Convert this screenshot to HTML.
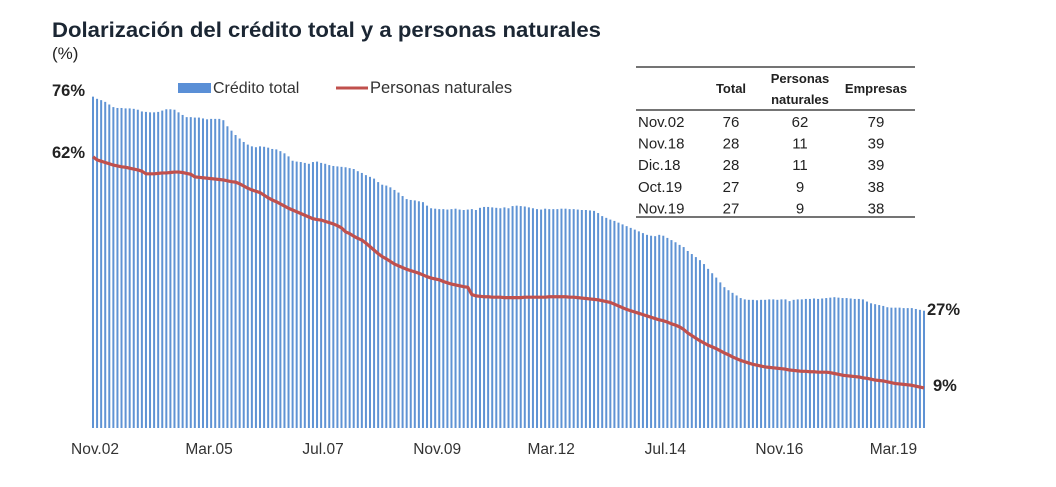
<!DOCTYPE html>
<html><head><meta charset="utf-8"><style>
body{margin:0;background:#fff;}
svg{display:block;font-family:"Liberation Sans",Arial,sans-serif;}
</style></head><body>
<svg id="chart" width="1056" height="487" viewBox="0 0 1056 487">
<text x="52" y="37" font-size="21.5" font-weight="bold" fill="#1b2633" textLength="549" lengthAdjust="spacingAndGlyphs">Dolarización del crédito total y a personas naturales</text>
<text x="52" y="59" font-size="17" fill="#222">(%)</text>
<g id="bars"></g>
<path id="line" fill="none" stroke="#c0504d" stroke-width="3.2" stroke-linejoin="round"></path>
<g id="xticks"></g>
<text x="52" y="96" font-size="16.5" font-weight="bold" fill="#222">76%</text>
<text x="52" y="158" font-size="16.5" font-weight="bold" fill="#222">62%</text>
<text x="927" y="315" font-size="16.5" font-weight="bold" fill="#222">27%</text>
<text x="933" y="391" font-size="16.5" font-weight="bold" fill="#222">9%</text>
<g>
<rect x="178" y="83" width="33" height="10" fill="#5a8fd6"/>
<text x="213" y="93" font-size="16" fill="#333">Crédito total</text>
<line x1="336" y1="88" x2="368" y2="88" stroke="#c0504d" stroke-width="3"/>
<text x="370" y="93" font-size="16.5" fill="#333">Personas naturales</text>
</g>
<g font-size="15" fill="#222">
<line x1="636" y1="67" x2="915" y2="67" stroke="#222" stroke-width="1.2"/>
<text x="731" y="93" font-size="13" font-weight="bold" text-anchor="middle">Total</text>
<text x="800" y="83" font-size="13" font-weight="bold" text-anchor="middle">Personas</text>
<text x="800" y="104" font-size="13" font-weight="bold" text-anchor="middle">naturales</text>
<text x="876" y="93" font-size="13" font-weight="bold" text-anchor="middle">Empresas</text>
<line x1="636" y1="110" x2="915" y2="110" stroke="#222" stroke-width="1.2"/>
<g id="rows"></g>
<line x1="636" y1="217" x2="915" y2="217" stroke="#222" stroke-width="1.2"/>
</g>
</svg>
<script>
const total = [76,75.5,75.2,74.8,74.2,
73.6,73.4,73.4,73.3,73.3,73.2,73.0,
72.6,72.5,72.4,72.4,72.5,72.8,
73.1,73.1,73.0,72.4,71.8,
71.3,71.3,71.2,71.2,71.0,
70.8,70.9,70.9,70.9,70.6,
69.2,68.2,67.2,66.4,65.6,
65.0,64.6,64.4,64.6,64.5,
64.3,64.0,63.9,63.5,63.0,62.3,
61.3,61.1,61.0,60.8,60.6,61.0,61.1,
60.8,60.6,60.3,60.1,60.0,59.9,59.8,59.6,59.4,
58.9,58.5,58.0,57.6,57.2,56.4,
55.8,55.6,55.2,54.6,54.0,53.2,
52.5,52.3,52.2,52.0,51.8,51.0,
50.4,50.3,50.2,50.2,50.1,50.2,50.3,50.1,50.0,50.1,50.2,50.0,
50.5,50.7,50.7,50.6,50.5,50.4,50.6,50.4,
50.9,51.0,50.9,50.8,50.6,50.4,
50.2,50.1,50.3,50.2,50.2,50.2,50.3,50.3,50.2,50.2,50.1,50.0,50.0,49.9,49.8,49.3,
48.6,48.2,47.8,47.5,47.1,46.7,46.3,45.9,45.5,45.1,
44.7,44.3,44.1,44.0,44.3,44.1,43.6,43.1,42.6,42.0,
41.5,40.6,39.9,39.2,38.5,37.6,36.5,35.5,34.5,33.4,
32.3,31.6,31.0,30.4,29.8,29.5,29.4,29.4,29.3,29.4,
29.4,29.5,29.5,29.4,29.5,29.5,29.1,29.4,29.5,29.5,
29.6,29.6,29.7,29.6,29.7,29.8,29.9,30.0,29.9,29.8,
29.8,29.7,29.6,29.6,29.5,29.0,28.6,28.4,28.2,28.0,
27.7,27.6,27.6,27.6,27.5,27.5,27.5,27.3,27.1,26.9];
const personas = [62.2,61.5,61.2,60.9,60.6,
60.3,60.1,59.9,59.8,59.6,59.4,59.2,
58.9,58.3,58.3,58.3,58.4,58.5,
58.5,58.6,58.7,58.7,58.6,
58.4,58.2,57.6,57.5,57.4,
57.3,57.2,57.1,57.0,56.9,
56.7,56.5,56.4,56.0,55.5,
55.0,54.6,54.3,54.0,53.4,
52.8,52.3,51.9,51.4,50.9,50.4,
50.0,49.6,49.2,48.8,48.4,48.0,47.8,
47.7,47.4,47.1,46.8,46.4,45.9,45.0,44.6,44.0,
43.5,43.1,42.4,41.6,40.8,40.0,
39.3,38.8,38.2,37.6,37.2,36.8,
36.4,36.1,35.8,35.5,35.1,34.7,
34.4,34.2,34.0,33.6,33.3,33.0,32.8,32.6,32.4,32.3,30.6,30.3,
30.2,30.1,30.1,30.0,30.0,30.0,29.9,29.9,
29.9,29.9,29.9,30.0,30.0,30.0,
30.0,30.0,30.0,30.1,30.1,30.1,30.1,30.1,30.0,30.0,29.9,29.8,29.7,29.6,29.5,29.4,
29.2,29.0,28.8,28.4,28.0,27.6,27.2,26.9,26.6,26.3,
26.0,25.7,25.4,25.1,24.8,24.6,24.3,23.9,23.6,23.2,
22.6,21.8,21.2,20.6,20.0,19.5,19.0,18.6,18.2,17.7,
17.2,16.8,16.3,15.9,15.5,15.2,14.9,14.6,14.4,14.2,
14.0,13.9,13.8,13.7,13.6,13.5,13.3,13.2,13.1,13.0,
13.0,12.9,12.9,12.8,12.8,12.8,12.7,12.5,12.3,12.1,
12.0,11.9,11.8,11.7,11.5,11.4,11.2,11.0,10.9,10.8,
10.6,10.4,10.2,10.1,10.0,9.9,9.8,9.6,9.4,9.2];
const tickLabels = ["Nov.02","Mar.05","Jul.07","Nov.09","Mar.12","Jul.14","Nov.16","Mar.19"];
const tickIndex = [0,28,56,84,112,140,168,196];
const rowLabels = ["Nov.02","Nov.18","Dic.18","Oct.19","Nov.19"];
const rowTotal = [76,28,28,27,27];
const rowPersonas = [62,11,11,9,9];
const rowEmpresas = [79,39,39,38,38];

const NS="http://www.w3.org/2000/svg";
const n = total.length;
const x0=93, x1=924, yBase=428, pxPerPct=4.36;
const xs = i => x0 + i*(x1-x0)/(n-1);
const ys = v => yBase - v*pxPerPct;
const bars=document.getElementById('bars');
total.forEach((v,i)=>{
  const r=document.createElementNS(NS,'rect');
  r.setAttribute('x',(xs(i)-1).toFixed(2));
  r.setAttribute('y',ys(v).toFixed(2));
  r.setAttribute('width','2');
  r.setAttribute('height',(yBase-ys(v)).toFixed(2));
  r.setAttribute('fill','#5f93d4');
  
  
  bars.appendChild(r);
});
document.getElementById('line').setAttribute('d',personas.map((v,i)=>(i?'L':'M')+xs(i).toFixed(2)+' '+ys(v).toFixed(2)).join(' '));
const xt=document.getElementById('xticks');
tickLabels.forEach((t,k)=>{
  const e=document.createElementNS(NS,'text');
  e.setAttribute('x',(xs(tickIndex[k])+2).toFixed(1));
  e.setAttribute('y','454');
  e.setAttribute('font-size','15.5');
  e.setAttribute('fill','#333');
  e.setAttribute('text-anchor','middle');
  e.textContent=t;
  
  
  xt.appendChild(e);
});
const rows=document.getElementById('rows');
rowLabels.forEach((l,k)=>{
  const y=127+k*21.6;
  const cells=[[l,638,'start'],[rowTotal[k],731,'middle'],[rowPersonas[k],800,'middle'],[rowEmpresas[k],876,'middle']];
  cells.forEach(c=>{
    const e=document.createElementNS(NS,'text');
    e.setAttribute('x',c[1]);
    e.setAttribute('y',y.toFixed(1));
    e.setAttribute('text-anchor',c[2]);
    e.textContent=c[0];
    
    
    rows.appendChild(e);
  });
});
</script>
</body></html>
